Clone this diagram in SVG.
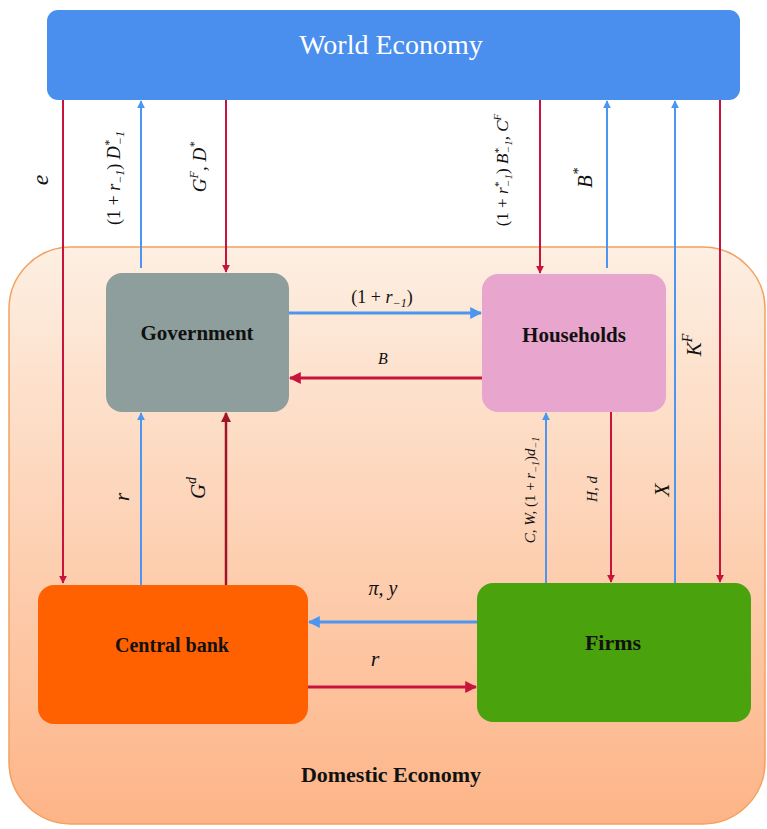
<svg xmlns="http://www.w3.org/2000/svg" width="767" height="829" viewBox="0 0 767 829">
<defs>
<linearGradient id="dom" x1="0" y1="0" x2="0" y2="1">
<stop offset="0" stop-color="#fdefe2"/>
<stop offset="1" stop-color="#fdb487"/>
</linearGradient>
<marker id="ar" viewBox="0 0 10 10" refX="9" refY="5" markerWidth="4" markerHeight="4" orient="auto" markerUnits="strokeWidth">
<path d="M0,0 L10,5 L0,10 z" fill="#c8143c"/>
</marker>
<marker id="ab" viewBox="0 0 10 10" refX="9" refY="5" markerWidth="4" markerHeight="4" orient="auto" markerUnits="strokeWidth">
<path d="M0,0 L10,5 L0,10 z" fill="#4a96f0"/>
</marker>
<marker id="ad" viewBox="0 0 10 10" refX="9" refY="5" markerWidth="4" markerHeight="4" orient="auto" markerUnits="strokeWidth">
<path d="M0,0 L10,5 L0,10 z" fill="#9e1626"/>
</marker>
</defs>
<style>
.red{stroke:#c8143c;stroke-width:2;fill:none;marker-end:url(#ar)}
.blue{stroke:#4a96f0;stroke-width:2;fill:none;marker-end:url(#ab)}
.dred{stroke:#9e1626;stroke-width:2.5;fill:none;marker-end:url(#ad)}
.h{stroke-width:3}
.node{font-family:"Liberation Serif",serif;font-weight:bold;fill:#111;text-anchor:middle}
.lbl{font-family:"Liberation Serif",serif;font-style:italic;fill:#111;text-anchor:middle}
</style>
<rect width="767" height="829" fill="#ffffff"/>
<g id="domestic-economy">
<rect x="9" y="247" width="756" height="577" rx="62" ry="62" fill="url(#dom)" stroke="#f4a160" stroke-width="1.5"/>
<text class="node" x="391" y="782" font-size="22">Domestic Economy</text>
</g>
<g id="world-economy">
<rect x="47" y="10" width="693" height="90" rx="11" ry="11" fill="#4a8fee"/>
<text x="391" y="54" font-family="Liberation Serif,serif" font-size="28" fill="#ffffff" text-anchor="middle">World Economy</text>
</g>
<g id="government">
<rect x="106" y="273" width="183" height="139" rx="16" ry="16" fill="#8e9e9c"/>
<text class="node" x="197" y="340" font-size="21">Government</text>
</g>
<g id="households">
<rect x="482" y="274" width="184" height="138" rx="16" ry="16" fill="#e8a5cd"/>
<text class="node" x="574" y="342" font-size="21">Households</text>
</g>
<g id="central-bank">
<rect x="38" y="585" width="270" height="139" rx="16" ry="16" fill="#ff6000"/>
<text class="node" x="172" y="652" font-size="20">Central bank</text>
</g>
<g id="firms">
<rect x="477" y="583" width="274" height="139" rx="16" ry="16" fill="#4aa30c"/>
<text class="node" x="613" y="650" font-size="22">Firms</text>
</g>
<g id="connectors">
<line class="red" x1="63" y1="100" x2="63" y2="583"/>
<line class="blue" x1="141" y1="268" x2="141" y2="101"/>
<line class="red" x1="226" y1="100" x2="226" y2="272"/>
<line class="red" x1="540" y1="100" x2="540" y2="273"/>
<line class="blue" x1="607" y1="268" x2="607" y2="101"/>
<line class="blue" x1="675" y1="583" x2="675" y2="101"/>
<line class="red" x1="720" y1="100" x2="720" y2="582"/>
<line class="blue h" x1="289" y1="313" x2="481" y2="313"/>
<line class="red h" x1="482" y1="378" x2="290" y2="378"/>
<line class="blue" x1="141" y1="585" x2="141" y2="413"/>
<line class="dred" x1="226" y1="585" x2="226" y2="413"/>
<line class="blue" x1="546" y1="583" x2="546" y2="413"/>
<line class="red" x1="611" y1="412" x2="611" y2="582"/>
<line class="blue h" x1="477" y1="622" x2="309" y2="622"/>
<line class="red h" x1="308" y1="687" x2="476" y2="687"/>
<text class="lbl" font-size="24" transform="translate(48,180) rotate(-90)">e</text>
<text class="lbl" font-size="18" transform="translate(120,178) rotate(-90)"><tspan font-style="normal">(1 + </tspan>r<tspan font-size="12" dy="4">−1</tspan><tspan dy="-4" font-style="normal">) </tspan>D<tspan font-size="12" dy="-7">*</tspan><tspan font-size="12" dx="-5" dy="11">−1</tspan></text>
<text class="lbl" font-size="19" transform="translate(206,167) rotate(-90)">G<tspan font-size="12" dy="-8">F</tspan><tspan dy="8">, D</tspan><tspan font-size="12" dy="-8">*</tspan></text>
<text class="lbl" font-size="17" transform="translate(508,170) rotate(-90)"><tspan font-style="normal">(1 + </tspan>r<tspan font-size="11" dy="-6">*</tspan><tspan font-size="11" dx="-5" dy="10">−1</tspan><tspan dy="-4" font-style="normal">) </tspan>B<tspan font-size="11" dy="-6">*</tspan><tspan font-size="11" dx="-5" dy="10">−1</tspan><tspan dy="-4">, C</tspan><tspan font-size="11" dy="-7">F</tspan></text>
<text class="lbl" font-size="21" transform="translate(592,178) rotate(-90)">B<tspan font-size="14" dy="-9">*</tspan></text>
<text class="lbl" font-size="21" transform="translate(701,345) rotate(-90)">K<tspan font-size="14" dy="-9">F</tspan></text>
<text class="lbl" font-size="21" transform="translate(669,490) rotate(-90)">X</text>
<text class="lbl" font-size="15" transform="translate(597,489) rotate(-90)">H, d</text>
<text class="lbl" font-size="15" transform="translate(535,490) rotate(-90)">C, W, <tspan font-style="normal">(1 + </tspan>r<tspan font-size="10" dy="4">−1</tspan><tspan dy="-4" font-style="normal">)</tspan>d<tspan font-size="10" dy="4">−1</tspan></text>
<text class="lbl" font-size="21" transform="translate(129,497) rotate(-90)">r</text>
<text class="lbl" font-size="21" transform="translate(205,488) rotate(-90)">G<tspan font-size="14" dy="-9">d</tspan></text>
<text class="lbl" font-size="18" x="382" y="303"><tspan font-style="normal">(1 + </tspan>r<tspan font-size="12" dy="4">−1</tspan><tspan dy="-4" font-style="normal">)</tspan></text>
<text class="lbl" font-size="16" x="383" y="364">B</text>
<text class="lbl" font-size="20" x="383" y="595">π, y</text>
<text class="lbl" font-size="22" x="375" y="666">r</text>
</g>
</svg>
